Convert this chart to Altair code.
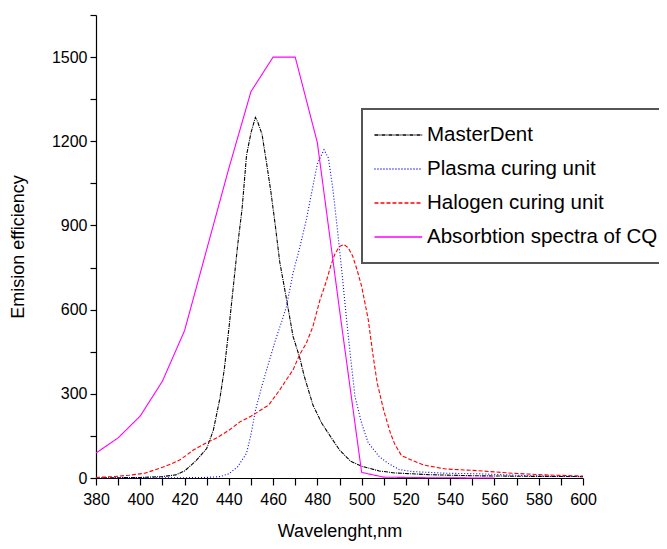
import altair as alt
import pandas as pd

series = ["MasterDent", "Plasma curing unit", "Halogen curing unit", "Absorbtion spectra of CQ"]
colors = ["#000000", "#0000ff", "#ff0000", "#ff00ff"]
dashes = [[4, 1, 1, 1], [1, 2], [4, 2], [1, 0]]

md_x = [380, 390, 400, 410, 416, 420, 425, 430, 433, 436, 438, 440, 442, 444, 446, 448, 450, 452, 453, 455,
        457, 459, 461, 463, 466, 469, 472, 474, 478, 482, 486, 490, 495, 500, 508, 515, 530, 550, 575, 600]
md_y = [0, 1, 2, 5, 11, 25, 60, 105, 170, 285, 390, 530, 680, 830, 960, 1150, 1230, 1285, 1270, 1225,
        1125, 1020, 900, 770, 640, 505, 430, 365, 260, 195, 147, 100, 60, 42, 25, 18, 12, 8, 6, 5]

pl_x = [380, 400, 420, 430, 436, 440, 444, 448, 450, 452, 455, 458, 461, 464, 466, 469, 472, 475, 477, 480,
        483, 485, 487, 489, 491, 493, 495, 497, 500, 503, 508, 512, 517, 523, 538, 553, 576, 600]
pl_y = [0, 0, 1, 2, 5, 15, 40, 88, 155, 240, 330, 410, 490, 560, 610, 730, 820, 920, 1000, 1120,
        1170, 1140, 1030, 890, 740, 580, 430, 290, 195, 125, 76, 52, 30, 23, 17, 15, 8, 5]

ha_x = [380, 388, 395, 402, 410, 414, 418, 421, 424, 430, 435, 440, 445, 450, 455, 458, 463, 466, 469, 472,
        475, 478, 481, 484, 486, 488, 490, 492, 494, 496, 498, 500, 503, 505, 507, 510, 513, 515, 518, 523,
        528, 538, 553, 568, 583, 600]
ha_y = [2, 5, 10, 17, 38, 50, 65, 82, 100, 126, 145, 170, 200, 220, 245, 260, 314, 350, 385, 440,
        480, 540, 630, 700, 755, 800, 825, 832, 820, 790, 740, 683, 564, 445, 340, 240, 160, 120, 80, 62,
        46, 32, 26, 17, 11, 7]

cq_x = [380, 390, 400, 410, 420, 430, 440, 450, 460, 470, 480, 490, 500, 510, 520, 530, 540, 550, 560]
cq_y = [89, 143, 221, 345, 525, 814, 1103, 1377, 1500, 1500, 1195, 600, 20, 3, 2, 1, 1, 0, 0]

rows = []
for name, xs, ys in zip(series, [md_x, pl_x, ha_x, cq_x], [md_y, pl_y, ha_y, cq_y]):
    for x, y in zip(xs, ys):
        rows.append({"series": name, "wl": x, "val": y})
df = pd.DataFrame(rows)

FONT = "Liberation Sans, Arial"

chart = alt.Chart(df).mark_line(strokeWidth=1.1).encode(
    x=alt.X("wl:Q",
            scale=alt.Scale(domain=[380, 600], nice=False, zero=False),
            axis=alt.Axis(values=list(range(380, 601, 10)), format="d",
                          labelExpr="datum.value % 20 == 0 ? datum.label : ''",
                          title="Wavelenght,nm", grid=False, tickSize=7, labelPadding=6,
                          titlePadding=15, labelFlush=False, titleFontSize=18)),
    y=alt.Y("val:Q",
            scale=alt.Scale(domain=[0, 1650], nice=False),
            axis=alt.Axis(values=list(range(0, 1651, 150)), format="d",
                          labelExpr="datum.value % 300 == 0 ? datum.label : ''",
                          title="Emision efficiency", grid=False, tickSize=6, labelPadding=3,
                          titlePadding=24, labelFlush=False, titleFontSize=18)),
    color=alt.Color("series:N", scale=alt.Scale(domain=series, range=colors),
                    legend=alt.Legend(title=None,
                                      symbolDash={"expr": "scale('strokeDash', datum.value)"},
                                      symbolStrokeColor={"expr": "scale('color', datum.value)"})),
    strokeDash=alt.StrokeDash("series:N", scale=alt.Scale(domain=series, range=dashes),
                              legend=None),
).properties(
    width=487, height=463,
    autosize=alt.AutoSizeParams(type="none"),
    padding={"left": 88, "top": 7, "right": 76, "bottom": 63},
).configure_view(stroke=None).configure_axis(
    domainColor="#000000", tickColor="#000000", labelColor="#000000", titleColor="#000000",
    labelFont=FONT, titleFont=FONT, labelFontSize=16, titleFontWeight="normal",
    domainWidth=1.2, tickWidth=1.2,
).configure_legend(
    orient="none", legendX=266, legendY=94, padding=9, strokeColor="#555555", strokeWidth=2,
    fillColor="#ffffff", symbolType="M-1.06,0H3.53", symbolSize=433, symbolStrokeWidth=1.3,
    symbolOffset=3, clipHeight=34,
    labelFont=FONT, labelFontSize=20.5, labelColor="#000000", labelOffset=30, rowPadding=0,
    labelLimit=500,
)

chart.save("out.html", embed_options={"renderer": "svg", "actions": False})
